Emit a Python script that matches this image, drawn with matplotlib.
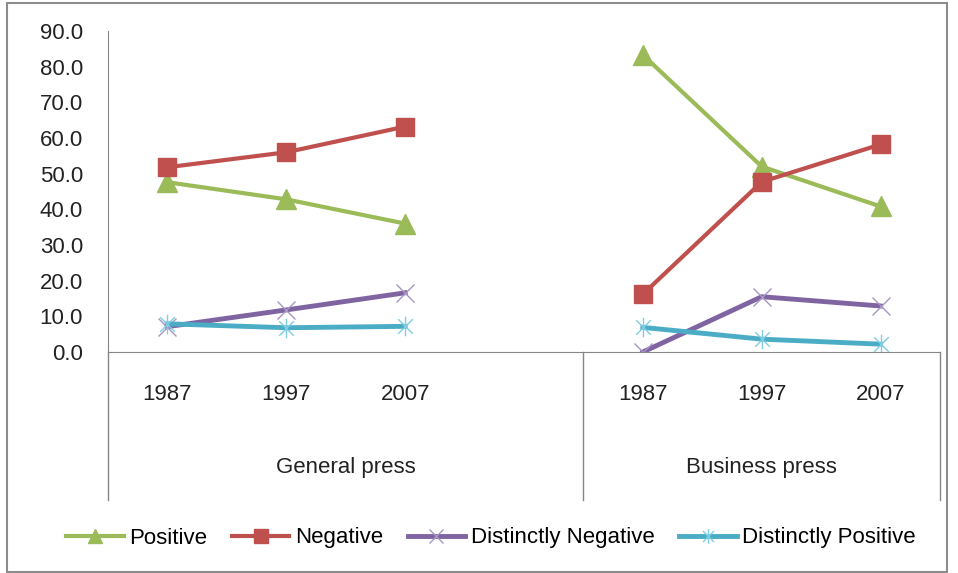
import matplotlib.pyplot as plt
import numpy as np
from matplotlib.path import Path
from matplotlib.patches import Rectangle

plt.rcParams['font.family'] = ['Liberation Sans', 'DejaVu Sans']

# categorias: 3 anos por grupo, una ranura vacia entre grupos
years = ['1987', '1997', '2007', '', '1987', '1997', '2007']
groups = ['General press', 'Business press']
group_span = [(0, 4), (4, 7)]

nan = np.nan
positive = [47.6, 42.8, 36.0, nan, 83.3, 52.0, 40.8]
negative = [51.8, 56.0, 63.2, nan, 16.2, 47.7, 58.2]
dist_negative = [7.1, 11.8, 16.6, nan, 0.0, 15.5, 12.9]
dist_positive = [7.9, 6.8, 7.2, nan, 6.9, 3.6, 2.2]

x = np.arange(len(years)) + 0.5

# marcador estrella tipo Excel (x con barra vertical)
star = Path([(0, -1), (0, 1), (-0.75, -0.75), (0.75, 0.75), (-0.75, 0.75), (0.75, -0.75)],
            [Path.MOVETO, Path.LINETO, Path.MOVETO, Path.LINETO, Path.MOVETO, Path.LINETO])

fig = plt.figure(figsize=(9.58, 5.73), dpi=100)
fig.patches.append(Rectangle((7 / 958, 0.002), 940 / 958, 1 - 4 / 573, transform=fig.transFigure,
                             fill=False, edgecolor='#8c8c8c', linewidth=1.5))
ax = fig.add_axes([108 / 958, 221 / 573, 832 / 958, 321 / 573])

ax.plot(x, positive, color='#9BBB59', lw=3, marker='^', ms=14, label='Positive')
ax.plot(x, negative, color='#C0504D', lw=3, marker='s', ms=13, label='Negative')
ax.plot(x, dist_negative, color='#8064A2', lw=3.5, marker='x', ms=13, mew=1,
        mec='#A596C4', label='Distinctly Negative')
ax.plot(x, dist_positive, color='#4BACC6', lw=3.5, marker=star, ms=14, mew=1,
        mec='#7FCDE2', label='Distinctly Positive')

fs = 16
ax.set_xlim(0, 7)
ax.set_ylim(0, 90)
ax.set_yticks(np.arange(0, 91, 10))
ax.set_yticklabels([f'{v:.1f}' for v in np.arange(0, 91, 10)], fontsize=fs, color='#222222')
ax.tick_params(axis='y', length=0, pad=18)
ax.set_xticks([])

for s in ['top', 'right']:
    ax.spines[s].set_visible(False)
ax.spines['left'].set_color('#868686')
ax.spines['bottom'].set_color('#868686')

# eje de categorias en dos niveles
tr = ax.get_xaxis_transform()
bottom = -(500 - 352) / 321
for xv in [0, 4, 7]:
    ax.plot([xv, xv], [0, bottom], transform=tr, color='#868686', lw=1, clip_on=False)
for xi, lab in zip(x, years):
    ax.text(xi, -(394 - 352) / 321, lab, transform=tr, ha='center', va='center', fontsize=fs,
            color='#222222')
for (a, b), g in zip(group_span, groups):
    ax.text((a + b) / 2, -(468 - 352) / 321, g, transform=tr, ha='center', va='center',
            fontsize=fs, color='#222222')

fig.legend(loc='center', bbox_to_anchor=(491 / 958, 1 - 538 / 573), ncol=4, frameon=False,
           fontsize=fs, handlelength=2.6, columnspacing=1.1, handletextpad=0.25,
           markerscale=0.75)

fig.savefig('out.png', dpi=100)
